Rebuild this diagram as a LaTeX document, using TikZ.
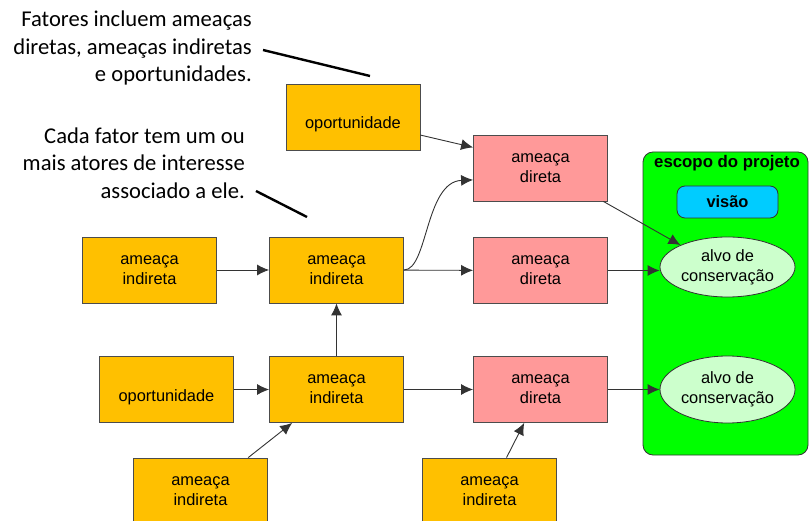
\documentclass[tikz,border=0pt]{standalone}
\usepackage{fontspec}
\setmainfont{Liberation Sans}
\newfontfamily\notefont{Carlito}
\usetikzlibrary{
    arrows.meta,
    shapes.geometric
}
\definecolor{factorfill}{HTML}{FFC000}
\definecolor{threatfill}{HTML}{FF9999}
\definecolor{scopefill}{HTML}{00FF00}
\definecolor{targetfill}{HTML}{CCFFCC}
\definecolor{visionfill}{HTML}{00CCFF}
\newcommand{\boxfont}{\fontsize{16.4}{20}\selectfont}

\begin{document}
\begin{tikzpicture}[x=1pt, y=-1pt,
    box/.style={draw=black!70, line width=0.8pt, minimum width=134pt, minimum height=66pt,
        inner sep=1pt, align=center, font=\boxfont},
    factor/.style={box, fill=factorfill},
    threat/.style={box, fill=threatfill},
    oneline/.style={text height=24pt, text depth=0pt},
    target/.style={ellipse, draw=black!80, line width=0.8pt, fill=targetfill,
        minimum width=135pt, inner sep=0pt, align=center, font=\boxfont},
    conn/.style={draw=black!80, line width=0.9pt, -{Latex[length=12pt,width=11pt]}},
    note/.style={font=\notefont\fontsize{22.6}{27.5}\selectfont, align=right, inner sep=0pt},
    noteline/.style={line width=2.4pt}
]
    \useasboundingbox (0,0) rectangle (809,521);

    % project scope
    \node[draw=black!80, line width=0.8pt, fill=scopefill, rounded corners=10pt,
        minimum width=165pt, minimum height=303pt] (scope) at (725.5,303.5) {};
    \node[font=\fontsize{16.8}{20}\selectfont\bfseries] (title) at (727,163) {escopo do projeto};
    \node[draw=black!80, line width=0.8pt, fill=visionfill, rounded corners=8pt,
        minimum width=101pt, minimum height=32pt, font=\boxfont\bfseries] (vision) at (727.5,202) {visão};
    \node[target, minimum height=60pt] (tgtA) at (727.5,267) {alvo de\\conservação};
    \node[target, minimum height=67pt] (tgtB) at (727.5,389.5) {alvo de\\conservação};

    % factors
    \node[factor, oneline] (opA) at (353,117) {oportunidade};
    \node[threat] (dirA) at (540.5,168) {ameaça\\direta};
    \node[factor] (indA) at (149.5,270) {ameaça\\indireta};
    \node[factor] (indB) at (336.5,270) {ameaça\\indireta};
    \node[threat] (dirB) at (540.5,270.5) {ameaça\\direta};
    \node[factor, oneline] (opB) at (166.5,389.5) {oportunidade};
    \node[factor] (indC) at (336.5,389.5) {ameaça\\indireta};
    \node[threat] (dirC) at (540.5,389.5) {ameaça\\direta};
    \node[factor] (indD) at (200.5,491) {ameaça\\indireta};
    \node[factor] (indE) at (489.5,491) {ameaça\\indireta};

    % links
    \draw[conn] (opA.-15) -- (dirA.163);
    \draw[conn] (indB.east) .. controls +(24,0) and +(-48,2) .. (dirA.190);
    \draw[conn] (indA) -- (indB);
    \draw[conn] (indB) -- (dirB);
    \draw[conn] (indC) -- (indB);
    \draw[conn] (opB) -- (indC);
    \draw[conn] (indD.35) -- (indC.217);
    \draw[conn] (indC) -- (dirC);
    \draw[conn] (indE.63) -- (dirC.244);
    \draw[conn] (dirA.-28) -- (tgtA.155);
    \draw[conn] (dirB.east) -- (dirB.east -| tgtA.west);
    \draw[conn] (dirC) -- (tgtB);

    % notes
    \node[note, anchor=east] (noteA) at (252,48) {Fatores incluem ameaças\\diretas, ameaças indiretas\\e oportunidades.};
    \node[note, anchor=east] (noteB) at (245,163) {Cada fator tem um ou\\mais atores de interesse\\associado a ele.};
    \coordinate (tipA) at (370,76);
    \coordinate (tipB) at (307,217);
    \draw[noteline] (noteA.east) ++(11,2) -- (tipA);
    \draw[noteline] (noteB.east) ++(11,28) -- (tipB);
\end{tikzpicture}
\end{document}
